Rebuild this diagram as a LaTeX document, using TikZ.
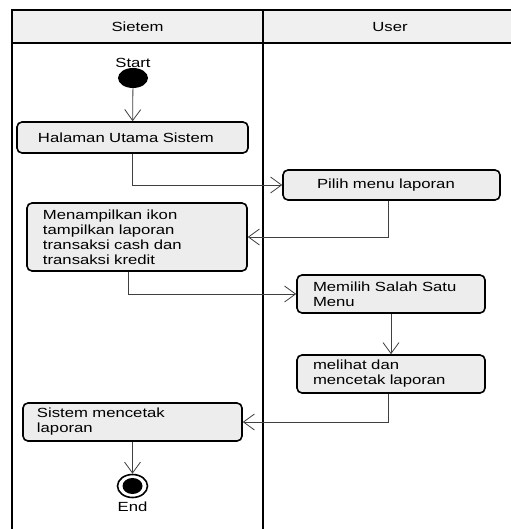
\documentclass[tikz,border=0pt]{standalone}
\usepackage{fontspec}
\setmainfont{Liberation Sans}[FakeStretch=1.26]
\usetikzlibrary{arrows.meta,positioning,shapes.geometric}

\begin{document}
\begin{tikzpicture}[
      x=1bp, y=-1bp,
      font=\fontsize{13.3}{15}\selectfont,
      act/.style={draw, line width=1.6bp, rounded corners=5bp, fill=gray!14, align=left, inner ysep=2bp, inner xsep=16bp},
      lane/.style={line width=1.8bp},
      flow/.style={draw=black!75, line width=0.8bp, ->},
      >={Straight Barb[length=11bp,width=16bp]}
    ]
    \useasboundingbox (0,0) rectangle (511,529);
    \clip (0,0) rectangle (511,529);
    \fill[white] (0,0) rectangle (511,529);

    % Swimlanes
    \fill[gray!12] (12,10) rectangle (530,43);
    \draw[lane] (12,540) -- (12,10) -- (530,10);
    \draw[lane] (12,43) -- (530,43);
    \draw[lane] (263,10) -- (263,540);
    \node (lsis) at (137.5,27) {Sietem};
    \node (lusr) at (390,27) {User};

    % Start
    \node[ellipse, fill=black, minimum width=30bp, minimum height=20bp, inner sep=0pt] (start) at (133,78) {};
    \node[above=-1bp of start, inner sep=1bp] (lstart) {Start};

    % Actions
    \node[act, inner xsep=21bp, text width=189bp, minimum height=31bp] (hal) at (132.5,137.5) {Halaman Utama Sistem};
    \node[act, inner xsep=34bp, text width=149bp, minimum height=30bp] (pilih) at (391.5,185) {Pilih menu laporan};
    \node[act, text width=188bp, minimum height=68bp] (tampil) at (137,237) {Menampilkan ikon\\tampilkan laporan\\transaksi cash dan\\transaksi kredit};
    \node[act, text width=156bp, minimum height=38bp] (menu) at (391,294) {Memilih Salah Satu\\Menu};
    \node[act, text width=156bp, minimum height=38bp] (lihat) at (391,374) {melihat dan\\mencetak laporan};
    \node[act, inner xsep=14bp, text width=191bp, minimum height=38bp] (cetak) at (132.5,422) {Sistem mencetak\\laporan};

    % End
    \node[ellipse, draw, line width=1.6bp, minimum width=30bp, minimum height=23bp, inner sep=0pt] (end) at (132.5,486) {};
    \node[ellipse, fill=black, minimum width=20bp, minimum height=16bp, inner sep=0pt] (endin) at (end.center) {};
    \node[below=2bp of end, inner sep=1bp] (lend) {End};

    % Flow
    \draw[flow] (start) -- (hal);
    \draw[flow] (hal) |- (pilih);
    \draw[flow] ([xshift=-3bp]pilih.south) |- (tampil);
    \draw[flow] ([xshift=-9bp]tampil.south) |- (menu);
    \draw[flow] (menu) -- (lihat);
    \draw[flow] ([xshift=-3bp]lihat.south) |- (cetak);
    \draw[flow] (cetak) -- (end);

\end{tikzpicture}
\end{document}
